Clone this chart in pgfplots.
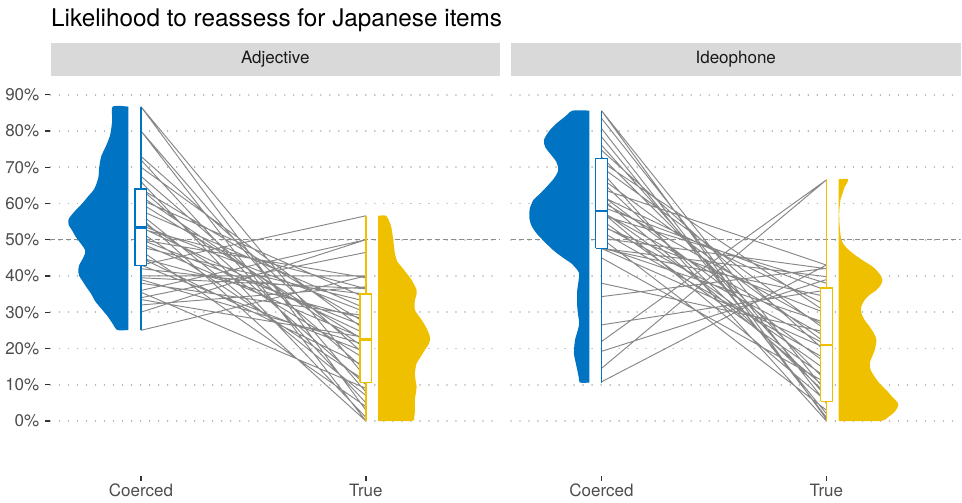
\documentclass[border=0pt]{standalone}
\usepackage{fontspec}
\setmainfont{TeX Gyre Heros}
\usepackage{pgfplots}
\pgfplotsset{compat=1.18}
\usepackage{pgfplotstable}

\definecolor{jcoblue}{HTML}{0073C2}
\definecolor{jcoyellow}{HTML}{EFC000}
\definecolor{stripgray}{HTML}{D9D9D9}
\definecolor{gridgray}{HTML}{B3B3B3}
\definecolor{pairgray}{HTML}{878787}
\definecolor{refgray}{HTML}{8C8C8C}
\definecolor{tickgray}{HTML}{333333}
\definecolor{labelgray}{HTML}{4D4D4D}

\newcommand\axfont{\fontsize{17}{20}\selectfont}

% ---- half-violin outlines: w = width in pt away from the flat edge, y = percent
\pgfplotstableread{
w y
0 86.7
15.6 86.7
16 83
18 79
22 76
27 73
29 70
30 67
34 64
40 62
46 60
53 58
59 56
60 55
59.5 54
56 52.5
53 51
49 49.5
45 48
43 47
43.5 46
46 44.5
49 43
50 41.5
49 40
45.5 38.5
42 37
37 35
33 33
27 31
21 29
16 27
11 25.1
0 25.1
}\adjcoerced

\pgfplotstableread{
w y
0 56.6
8 56.6
11 55
13 53.6
15 50
16.7 46.2
19 44
23.4 42.5
29 40.5
33.4 38.9
38.4 36.1
38 34.5
36.7 33.4
36.7 30.6
43.4 27.9
48.5 25.5
51.7 23.2
51 21.5
46.7 19.6
42 17.5
38.4 15.9
36.7 13.2
37.5 11
38.4 9.5
37.5 7.5
36.7 5.8
36.7 3
36 1
33 0
0 0
}\adjtrue

\pgfplotstableread{
w y
0 85.6
16.6 85.6
24 84
32.6 82.1
40 80
45.3 77.5
44 75.5
39.3 73.8
33 71.5
31 69.2
35 67
42.6 64.6
50 62.5
56 60.9
59.5 58.5
60 56.3
58 54
52.6 51.7
45 49.5
36 47.1
26 45
17.6 43.4
11.5 41.5
10 40.7
11 38
12 36.1
12 31.5
11 29
10 26.9
12 24.5
14.3 22.3
15.3 18.7
13.5 16
12 14.1
10.5 12
9.3 10.6
0 10.6
}\ideocoerced

\pgfplotstableread{
w y
0 66.7
9.3 66.7
8 65.5
6 64.6
3.5 62.5
1.7 60.9
0.5 57.3
1 53.6
2.7 49.9
7 48
14.3 46.2
24 44.3
34.3 42.5
41 40.5
43.7 38.9
42 37.5
37.7 36.1
31 34.8
26 33.4
22.5 31.5
22.7 29.7
26 27.8
31 26
35.5 24
37.7 22.3
36 19.6
33 17.5
31 15.9
32 14
36 12.2
41 10.3
47.7 8.5
54 6.5
59.3 4.9
58.5 3.5
54.3 2.1
49 1
41 0
0 0
}\ideotrue

% ---- box summary: position, lower whisker, Q1, median, Q3, upper whisker, colour
\newcommand\boxsummary[7]{%
  \addplot[#7, line width=1.2pt] coordinates {(#1,#2) (#1,#3)};
  \addplot[#7, line width=1.2pt] coordinates {(#1,#5) (#1,#6)};
  \addplot[#7, fill=white, line width=1.2pt] coordinates
    {(#1-0.026,#3) (#1+0.026,#3) (#1+0.026,#5) (#1-0.026,#5) (#1-0.026,#3)};
  \addplot[#7, line width=2.6pt] coordinates {(#1-0.026,#4) (#1+0.026,#4)};
}

% ---- paired responses (Coerced at x=1, True at x=2), one block per participant
\pgfplotstableread{
x y
1 86.7
2 3
nan nan
1 86.7
2 12
nan nan
1 80
2 0
nan nan
1 80
2 8
nan nan
1 73
2 18
nan nan
1 72
2 5
nan nan
1 70
2 25
nan nan
1 67.5
2 14
nan nan
1 64
2 10
nan nan
1 64
2 27
nan nan
1 66
2 1
nan nan
1 62
2 20
nan nan
1 61
2 34
nan nan
1 60
2 22
nan nan
1 58
2 31
nan nan
1 57
2 7
nan nan
1 56
2 0
nan nan
1 55
2 17
nan nan
1 54
2 30
nan nan
1 53.4
2 24
nan nan
1 53
2 36.5
nan nan
1 52
2 11
nan nan
1 50
2 26
nan nan
1 50
2 39.5
nan nan
1 49
2 22.5
nan nan
1 48
2 33
nan nan
1 47
2 4
nan nan
1 45
2 28
nan nan
1 45
2 15
nan nan
1 43
2 56.6
nan nan
1 43
2 19
nan nan
1 42
2 35
nan nan
1 40
2 40
nan nan
1 39.5
2 36.5
nan nan
1 39
2 21
nan nan
1 38
2 29
nan nan
1 36
2 50
nan nan
1 35.5
2 9
nan nan
1 34
2 46.5
nan nan
1 33.5
2 23
nan nan
1 32
2 37
nan nan
1 30
2 50
nan nan
1 25
2 40
}\adjpairs

\pgfplotstableread{
x y
1 85.6
2 0.5
nan nan
1 85.6
2 8
nan nan
1 83.5
2 4.9
nan nan
1 80.7
2 1
nan nan
1 78.4
2 2
nan nan
1 76.1
2 6.7
nan nan
1 74.7
2 19
nan nan
1 72.9
2 11
nan nan
1 71.5
2 30
nan nan
1 70
2 25
nan nan
1 68.8
2 0
nan nan
1 66.9
2 21.4
nan nan
1 66
2 7.5
nan nan
1 64
2 43
nan nan
1 62.3
2 15.9
nan nan
1 62
2 32
nan nan
1 61.4
2 9
nan nan
1 60.5
2 26
nan nan
1 59.1
2 36
nan nan
1 58
2 14
nan nan
1 57.7
2 23.2
nan nan
1 57.7
2 5.5
nan nan
1 56.8
2 38
nan nan
1 55.4
2 12
nan nan
1 54
2 21
nan nan
1 53.6
2 29.7
nan nan
1 52.2
2 17
nan nan
1 50.4
2 42
nan nan
1 50.4
2 3
nan nan
1 48
2 27
nan nan
1 47.6
2 34.3
nan nan
1 47.6
2 20
nan nan
1 47.6
2 39.8
nan nan
1 45
2 10.5
nan nan
1 38
2 24.5
nan nan
1 34.3
2 42.1
nan nan
1 26.5
2 36.1
nan nan
1 21.9
2 66.5
nan nan
1 19.2
2 39
nan nan
1 14.5
2 66.5
nan nan
1 10.8
2 43
}\ideopairs

\pgfplotsset{
  panel/.style={
    scale only axis, width=449.5pt, height=400pt,
    xmin=0.598, xmax=2.596, ymin=-15.17, ymax=95.15,
    axis line style={draw=none},
    xtick={1,2}, xticklabels={Coerced,True},
    ytick={0,10,...,90},
    tick align=outside, tick pos=left,
    major tick length=5pt,
    major tick style={color=tickgray, line width=1.3pt},
    ymajorgrids,
    major grid style={gridgray, line width=1.7pt, dash pattern=on 0.01pt off 9pt, line cap=round},
    /pgf/number format/assume math mode=true,
    ticklabel style={font=\axfont, text=labelgray, inner sep=0pt},
    xticklabel style={anchor=north, yshift=-3pt},
    yticklabel style={anchor=east, xshift=-6pt},
    yticklabel={\pgfmathprintnumber{\tick}\%},
  },
  violin/.style={draw=none, fill=#1, smooth, tension=0.45},
  pairs/.style={pairgray, line width=0.95pt, unbounded coords=jump, mark=none},
  refline/.style={refgray, line width=1pt, dash pattern=on 5pt off 3pt},
}

\begin{document}
\begin{tikzpicture}
\useasboundingbox (0pt,0pt) rectangle (962pt,503pt);

% ---------------- Adjective panel
\begin{axis}[panel, at={(50.5pt,27pt)}, anchor=south west]
  \addplot[refline] coordinates {(0.598,50) (2.596,50)};
  \addplot[violin=jcoblue] table[x expr={0.9436-\thisrow{w}/225}, y=y] {\adjcoerced};
  \addplot[violin=jcoyellow] table[x expr={2.0547+\thisrow{w}/225}, y=y] {\adjtrue};
  \addplot[pairs] table[x=x, y=y] {\adjpairs};
  \boxsummary{1}{25.1}{42.8}{53.4}{64.0}{86.7}{jcoblue}
  \boxsummary{2}{0}{10.7}{22.5}{35.0}{56.6}{jcoyellow}
\end{axis}

% ---------------- Ideophone panel
\begin{axis}[panel, at={(511pt,27pt)}, anchor=south west,
    yticklabels={}, ytick style={draw=none}]
  \addplot[refline] coordinates {(0.598,50) (2.596,50)};
  \addplot[violin=jcoblue] table[x expr={0.9458-\thisrow{w}/225}, y=y] {\ideocoerced};
  \addplot[violin=jcoyellow] table[x expr={2.0547+\thisrow{w}/225}, y=y] {\ideotrue};
  \addplot[pairs] table[x=x, y=y] {\ideopairs};
  \boxsummary{1}{10.6}{47.6}{57.9}{72.4}{85.6}{jcoblue}
  \boxsummary{2}{0}{5.4}{21.0}{36.7}{66.7}{jcoyellow}
\end{axis}

% facet strips
\fill[stripgray] (50.5pt,427pt) rectangle (500pt,460pt);
\fill[stripgray] (511pt,427pt) rectangle (960.5pt,460pt);
\node[font=\axfont, text={black!90}] at (275.25pt,443.5pt) {Adjective};
\node[font=\axfont, text={black!90}] at (735.75pt,443.5pt) {Ideophone};

% title
\node[anchor=base west, inner sep=0pt, font=\fontsize{24.3}{29}\selectfont]
  at (51pt,476pt) {Likelihood to reassess for Japanese items};
\end{tikzpicture}
\end{document}
